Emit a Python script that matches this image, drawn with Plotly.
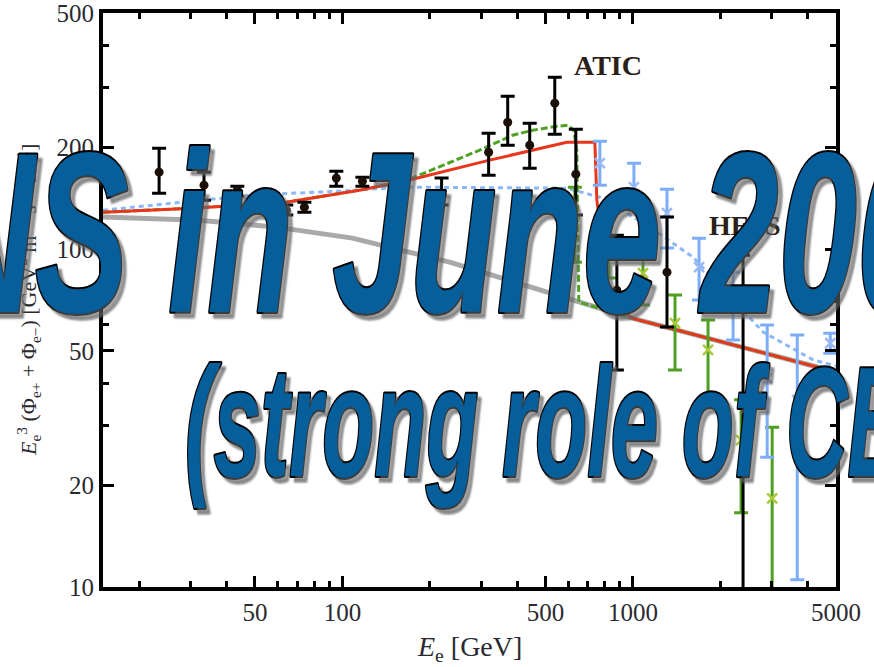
import plotly.graph_objects as go

# ---------------- data ----------------
# ATIC (black circles)
atic_E = [23.4, 33.4, 43.5, 64.1, 74.0, 95.3, 117.2, 219.5, 318.7, 370.7, 441.3, 538.3, 636.0, 880.5, 1310, 2394]
atic_F = [169, 154.7, 149.5, 130.4, 133.1, 162.3, 158.9, 146.4, 193.6, 237.5, 203.1, 270.4, 166.7, 75.6, 85.5, 66]
atic_hi = [199, 169, 153.6, 135, 137.7, 170.1, 163.3, 162.3, 220.4, 283.6, 235.9, 322.7, 226.5, 110, 124.4, 96]
atic_lo = [146.4, 139.6, 143.5, 126.1, 128.7, 153.6, 153.6, 135, 165.5, 203.1, 173.6, 218.9, 126.1, 43.9, 58.8, 5]

# HESS (light blue crosses)
hess_E = [769.5, 1008, 1310, 1689, 2212, 2898, 3678, 4778]
hess_F = [179.7, 152.6, 127.8, 88.4, 68.3, 41.5, 35.8, 52.7]
hess_hi = [208.7, 179.7, 150.5, 107.8, 85.5, 59.6, 55.7, 56.4]
hess_lo = [154.7, 130.4, 100.7, 70.7, 53.8, 24.2, 10.5, 49.2]

# HESS low-energy (green crosses)
hle_E = [631, 826.5, 1083, 1396, 1814, 2357, 3015]
hle_F = [120.2, 106.3, 84.9, 60.4, 50.3, 27.2, 18.3]
hle_hi = [152.6, 126.1, 101.4, 73.1, 61.7, 35.8, 29.7]
hle_lo = [91.5, 82.1, 68.3, 43.9, 36.5, 16.6, 5]

# model curves
bg_E = [15, 32.1, 59.2, 108.3, 233.9, 560.2, 992, 5000]
bg_F = [124.4, 121.8, 116.2, 107.8, 91.5, 72.6, 62.5, 43.3]

red_E = [15, 30.4, 64.1, 92.4, 114.4, 163.6, 321.3, 592.2, 739.6, 751.4, 833.1, 992, 5000]
red_F = [128.7, 132.2, 137.7, 145.4, 149.5, 158.9, 183.4, 207.3, 207.3, 139.6, 70.7, 62.5, 43.3]

grn_E = [15, 30.4, 64.1, 92.4, 114.4, 163.6, 296.8, 385.7, 451.9, 547, 596.9, 626, 641, 651.3, 992, 5000]
grn_F = [128.7, 132.2, 137.7, 145.4, 149.5, 158.9, 196.3, 217.4, 224.9, 231.1, 232.7, 224.9, 196.3, 69.7, 62.5, 43.3]

blu_E = [15, 48.9, 97.7, 163.6, 592.2, 769.5, 1144.6, 1610, 2807, 4176, 5000]
blu_F = [130.4, 144.5, 148.5, 152.6, 151.5, 142.5, 116.2, 94.7, 56.8, 47.0, 45.1]

x_ticks = [50, 100, 500, 1000, 5000]
x_minor = [20, 30, 40, 60, 70, 80, 90, 200, 300, 400, 600, 700, 800, 900, 2000, 3000, 4000]
y_ticks = [10, 20, 50, 100, 200, 500]
y_minor = [30, 40, 60, 70, 300, 400]

line1 = "NS in June 2009"
line2 = "(strong role of CBs)"

# ---------------- figure ----------------
def up(v, hi):
    return [h - a for a, h in zip(v, hi)]

def dn(v, lo):
    return [a - l for a, l in zip(v, lo)]

fig = go.Figure()
fig.add_trace(go.Scatter(x=bg_E, y=bg_F, mode="lines",
                         line=dict(color="#a9a9a9", width=5)))
fig.add_trace(go.Scatter(x=blu_E, y=blu_F, mode="lines",
                         line=dict(color="#8db8f7", width=3, dash="5px,4px")))
fig.add_trace(go.Scatter(x=grn_E, y=grn_F, mode="lines",
                         line=dict(color="#4ea325", width=3, dash="7px,3px")))
fig.add_trace(go.Scatter(x=red_E, y=red_F, mode="lines",
                         line=dict(color="#e8361c", width=3)))

fig.add_trace(go.Scatter(
    x=hle_E, y=hle_F, mode="markers",
    marker=dict(symbol="x-thin", size=10, line=dict(color="#a9c93c", width=2.5)),
    error_y=dict(type="data", array=up(hle_F, hle_hi), arrayminus=dn(hle_F, hle_lo),
                 color="#4f9f22", thickness=3, width=7)))
fig.add_trace(go.Scatter(
    x=hess_E, y=hess_F, mode="markers",
    marker=dict(symbol="x-thin", size=10, line=dict(color="#9ab9f5", width=2.5)),
    error_y=dict(type="data", array=up(hess_F, hess_hi), arrayminus=dn(hess_F, hess_lo),
                 color="#7dadf7", thickness=3, width=7)))
fig.add_trace(go.Scatter(
    x=atic_E, y=atic_F, mode="markers",
    marker=dict(symbol="circle", size=9, color="#1c1006"),
    error_y=dict(type="data", array=up(atic_F, atic_hi), arrayminus=dn(atic_F, atic_lo),
                 color="#000000", thickness=3, width=7)))

serif = "Liberation Serif"
axis_common = dict(
    type="log", showline=True, linecolor="#000", linewidth=4, mirror="allticks",
    ticks="inside", ticklen=11, tickwidth=3, tickcolor="#000",
    showgrid=False, zeroline=False, automargin=False, ticklabeloverflow="allow",
    tickfont=dict(family=serif, size=25, color="#2a2a30"),
)
fig.update_xaxes(**axis_common, range=[1.1761, 3.69897],
                 tickmode="array", tickvals=x_ticks, ticktext=[str(v) for v in x_ticks],
                 minor=dict(tickmode="array", tickvals=x_minor, ticks="inside",
                            ticklen=6, tickwidth=3, tickcolor="#000"))
fig.update_yaxes(**axis_common, range=[1.0, 2.69897],
                 tickmode="array", tickvals=y_ticks, ticktext=[str(v) for v in y_ticks],
                 minor=dict(tickmode="array", tickvals=y_minor, ticks="inside",
                            ticklen=6, tickwidth=3, tickcolor="#000"))

fig.update_layout(
    width=874, height=667, margin=dict(l=103, r=38, t=13, b=80),
    paper_bgcolor="#fff", plot_bgcolor="#fff", showlegend=False,
)

anns = [
    dict(text="<b>ATIC</b>", x=0.689, y=0.909,
         font=dict(family=serif, size=28, color="#2a2018")),
    dict(text="<b>HESS</b>", x=0.876, y=0.629,
         font=dict(family=serif, size=28, color="#2a2018")),
    dict(text="<i>E</i><sub>e</sub> [GeV]", x=0.5, y=-0.108,
         font=dict(family=serif, size=28, color="#2a2a30")),
    dict(text="<i>E</i><sub>e</sub><sup>3</sup> (Φ<sub>e+</sub> + Φ<sub>e−</sub>) "
              "[GeV<sup>2</sup> m<sup>−2</sup> s<sup>−1</sup> sr<sup>−1</sup>]",
         x=-0.1023, y=0.5, textangle=-90,
         font=dict(family=serif, size=22, color="#2a2a30")),
    dict(text=line1, x=-0.2352, y=0.6172, xanchor="left",
         font=dict(family="Liberation Sans", size=228, color="#065e9b",
                   weight="bold", style="italic",
                   shadow="6px 4px 2px rgba(100,100,100,0.6)")),
    dict(text=line2, x=0.109, y=0.2875, xanchor="left",
         font=dict(family="Liberation Sans", size=156, color="#065e9b",
                   weight="bold", style="italic",
                   shadow="6px 4px 2px rgba(100,100,100,0.6)")),
]
for a in anns:
    a.setdefault("showarrow", False)
    a.setdefault("xref", "paper")
    a.setdefault("yref", "paper")
    a.setdefault("xanchor", "center")
    a.setdefault("yanchor", "middle")
    fig.add_annotation(**a)

post = """
(function(){
  document.body.style.margin = '0';
  document.body.style.overflow = 'hidden';
  var specs = {};
  specs[%s] = 0.618;
  specs[%s] = 0.546;
  var gd = document.getElementById('{plot_id}');
  gd.querySelectorAll('.annotation-text').forEach(function(t){
    var s = specs[t.textContent];
    if (s === undefined) return;
    var b = t.getBBox();
    t.setAttribute('transform', 'translate(' + b.x + ',0) scale(' + s + ',1) translate(' + (-b.x) + ',0)');
    t.style.stroke = '#000';
    t.style.strokeWidth = '4px';
    t.style.strokeLinejoin = 'round';
    t.style.paintOrder = 'stroke';
  });
})();
""" % (repr(line1), repr(line2))

fig.write_html("out.html", post_script=post, config={"displayModeBar": False})
